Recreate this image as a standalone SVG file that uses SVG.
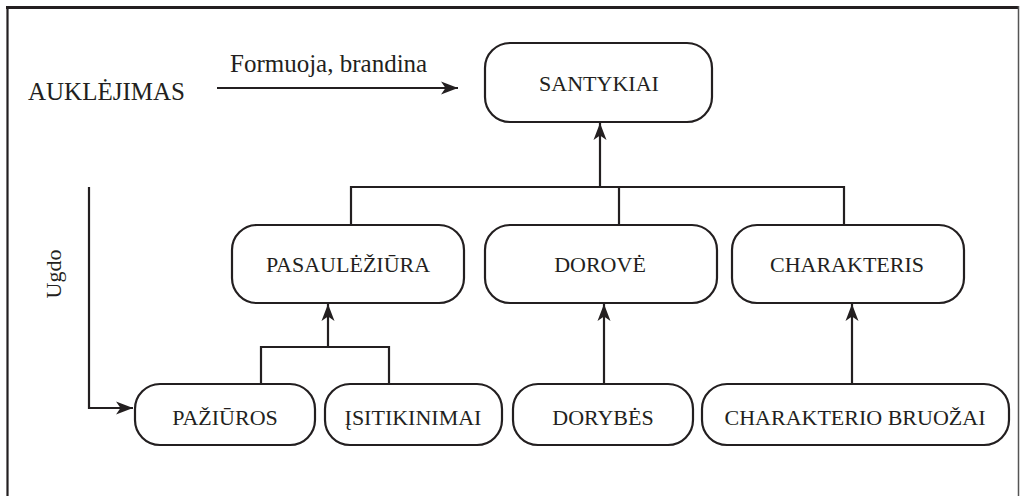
<svg xmlns="http://www.w3.org/2000/svg" width="1020" height="496" viewBox="0 0 1020 496">
<style>
.box{fill:#fff;stroke:#231f20;stroke-width:2.2}
.t{font-family:'Liberation Serif',serif;font-size:22px;fill:#231f20;text-anchor:middle}
.lbl{font-family:'Liberation Serif',serif;font-size:25px;fill:#231f20}
.c{fill:none;stroke:#231f20;stroke-width:2.2}
</style>
<defs>
<marker id="ah" markerUnits="userSpaceOnUse" markerWidth="18" markerHeight="14" refX="17" refY="7" orient="auto">
<path d="M0,0.5 L17,7 L0,13.5 L4.5,7 z" fill="#231f20"/>
</marker>
</defs>
<rect width="1020" height="496" fill="#fff"/>
<g id="frame">
<line x1="6" y1="7.5" x2="1019" y2="7.5" stroke="#231f20" stroke-width="3"/>
<line x1="7.5" y1="6" x2="7.5" y2="496" stroke="#231f20" stroke-width="2.2"/>
<line x1="1018.5" y1="6" x2="1018.5" y2="496" stroke="#555" stroke-width="1.5"/>
</g>
<g id="connectors">
<line class="c" x1="217" y1="88" x2="458" y2="88" marker-end="url(#ah)"/>
<polyline class="c" points="89,187 89,408 133,408" marker-end="url(#ah)"/>
<line class="c" x1="351" y1="187" x2="844" y2="187"/>
<line class="c" x1="600" y1="187" x2="600" y2="123" marker-end="url(#ah)"/>
<line class="c" x1="351" y1="186" x2="351" y2="225"/>
<line class="c" x1="619" y1="187" x2="619" y2="225"/>
<line class="c" x1="844" y1="186" x2="844" y2="225"/>
<polyline class="c" points="261,384 261,347 389,347 389,384"/>
<line class="c" x1="328" y1="347" x2="328" y2="304" marker-end="url(#ah)"/>
<line class="c" x1="604" y1="384" x2="604" y2="304" marker-end="url(#ah)"/>
<line class="c" x1="852" y1="384" x2="852" y2="304" marker-end="url(#ah)"/>
</g>
<g id="labels">
<text class="lbl" x="28" y="100">AUKLĖJIMAS</text>
<text class="lbl" x="230" y="72">Formuoja, brandina</text>
<text class="t" transform="translate(61,274) rotate(-90)">Ugdo</text>
</g>
<g id="santykiai"><rect class="box" x="485" y="43" width="227" height="79" rx="25"/><text class="t" x="599" y="91">SANTYKIAI</text></g>
<g id="pasaulezira"><rect class="box" x="232" y="225" width="232" height="78" rx="25"/><text class="t" x="348" y="272">PASAULĖŽIŪRA</text></g>
<g id="dorove"><rect class="box" x="485" y="225" width="232" height="78" rx="25"/><text class="t" x="600" y="272">DOROVĖ</text></g>
<g id="charakteris"><rect class="box" x="732" y="225" width="232" height="78" rx="25"/><text class="t" x="847" y="272">CHARAKTERIS</text></g>
<g id="paziuros"><rect class="box" x="135" y="384" width="180" height="61" rx="25"/><text class="t" x="225" y="425">PAŽIŪROS</text></g>
<g id="isitikinimai"><rect class="box" x="325" y="384" width="177" height="61" rx="25"/><text class="t" x="413" y="425">ĮSITIKINIMAI</text></g>
<g id="dorybes"><rect class="box" x="513" y="384" width="180" height="61" rx="25"/><text class="t" x="603" y="425">DORYBĖS</text></g>
<g id="bruozai"><rect class="box" x="702" y="384" width="307" height="61" rx="25"/><text class="t" x="855" y="425">CHARAKTERIO BRUOŽAI</text></g>
</svg>
